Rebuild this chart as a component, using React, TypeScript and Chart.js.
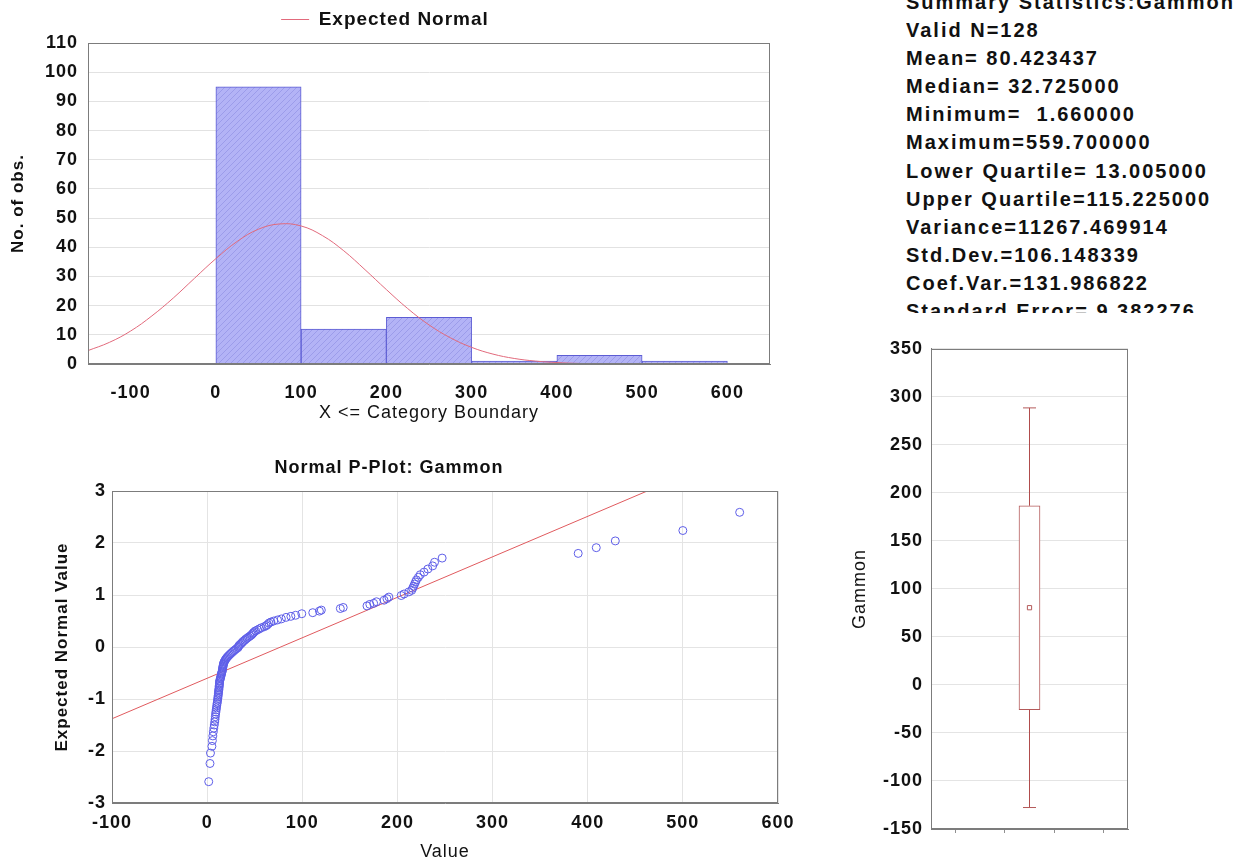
import React, { useEffect, useRef } from 'react';
import { Chart, registerables } from 'chart.js';

Chart.register(...registerables);

const FONT = 'Arial, "Liberation Sans", sans-serif';
Chart.defaults.font.family = FONT;
Chart.defaults.color = '#111111';

// ---------- Histogram ----------
const binStarts = [0, 100, 200, 300, 400, 500];
const binWidth = 100;
const binCounts = [95, 12, 16, 1, 3, 1];
const histXTicks = [-100, 0, 100, 200, 300, 400, 500, 600];
const normalCurveX = [-150, -125, -100, -75, -50, -25, 0, 25, 50, 75, 100, 125, 150, 175, 200, 225, 250, 275, 300, 325, 350, 375, 400, 425, 450, 475, 500, 525, 550, 575, 600, 625, 650];
const normalCurveY = [4.6, 7.4, 11.3, 16.5, 22.6, 29.4, 36.1, 42.0, 46.2, 48.0, 47.3, 44.0, 38.8, 32.3, 25.5, 19.0, 13.4, 9.0, 5.7, 3.4, 1.9, 1.0, 0.5, 0.2, 0.1, 0.05, 0, 0, 0, 0, 0, 0, 0];

// ---------- Normal P-Plot ----------
const pplotValues = [
  1.66, 3, 3.5, 5, 5.5, 6, 6.5, 7, 7.5, 8,
  8.3, 8.6, 8.9, 9.2, 9.5, 9.8, 10.1, 10.4, 10.7, 11.0,
  11.2, 11.4, 11.6, 11.8, 12.0, 12.1, 12.3, 12.5, 12.6, 12.8, 12.9, 13.0, 13.01,
  13.4, 13.8, 14.1, 14.4, 14.7, 15.0, 15.3, 15.6, 15.9, 16.1, 16.3, 16.5,
  16.7, 16.9, 17.1, 17.4, 17.8, 18.4, 19, 19.7, 20.5, 21.4,
  22.4, 23.5, 24.6, 25.8, 27, 28.3, 29.6, 31, 32.5,
  32.95, 33.6, 34.8, 36, 37, 38, 39.5, 40.5, 42, 43.5, 45,
  46.5, 47.5, 48.5, 49.5, 51, 53, 55, 57, 60, 62,
  63.5, 65, 67, 70, 74, 78, 83, 88, 93, 99.5,
  111, 118, 120, 140, 143, 168, 171, 175, 178, 186, 189, 191,
  204, 207, 212, 215, 216, 217, 218, 219, 220, 222, 224, 228, 232, 237, 239, 247,
  390, 409, 429, 500, 559.7,
];
const pplotExpected = [
  -2.59, -2.24, -2.04, -1.91, -1.80, -1.71, -1.63, -1.56, -1.50, -1.44,
  -1.39, -1.34, -1.29, -1.25, -1.21, -1.17, -1.13, -1.09, -1.06, -1.02,
  -0.99, -0.96, -0.93, -0.90, -0.87, -0.84, -0.82, -0.79, -0.76, -0.74,
  -0.71, -0.69, -0.66, -0.64, -0.61, -0.59, -0.57, -0.54, -0.52, -0.50,
  -0.48, -0.46, -0.43, -0.41, -0.39, -0.37, -0.35, -0.33, -0.31, -0.29,
  -0.27, -0.25, -0.23, -0.21, -0.19, -0.17, -0.15, -0.13, -0.11, -0.09,
  -0.07, -0.05, -0.03, -0.01,
  0.01, 0.03, 0.05, 0.07, 0.09, 0.11, 0.13, 0.15, 0.17, 0.19,
  0.21, 0.23, 0.25, 0.27, 0.29, 0.31, 0.33, 0.35, 0.37, 0.39,
  0.41, 0.43, 0.46, 0.48, 0.50, 0.52, 0.54, 0.57, 0.59, 0.61,
  0.64, 0.66, 0.69, 0.71, 0.74, 0.76, 0.79, 0.82, 0.84, 0.87,
  0.90, 0.93, 0.96, 0.99, 1.02, 1.06, 1.09, 1.13, 1.17, 1.21,
  1.25, 1.29, 1.34, 1.39, 1.44, 1.50, 1.56, 1.63, 1.71, 1.80,
  1.91, 2.04, 2.24, 2.59,
];
const fitLineX = [-100, 600];
const fitLineY = [-1.38, 4.07];

// ---------- Box plot ----------
const boxXTicks = [1, 2, 3];
const boxCenter = 2;
const boxMean = 80.423437;
const boxSdLow = -25.72;
const boxSdHigh = 186.57;
const whiskerLow = -127.63;
const whiskerHigh = 288.47;

// ---------- Summary text ----------
const statsLines = [
  'Summary Statistics:Gammon',
  'Valid N=128',
  'Mean= 80.423437',
  'Median= 32.725000',
  'Minimum=  1.660000',
  'Maximum=559.700000',
  'Lower Quartile= 13.005000',
  'Upper Quartile=115.225000',
  'Variance=11267.469914',
  'Std.Dev.=106.148339',
  'Coef.Var.=131.986822',
  'Standard Error= 9.382276',
];

const tickFont = { family: FONT, size: 18, weight: 'bold' as const };
const AXIS = '#7c7c7c';

const spacingPlugin = {
  id: 'spacing',
  beforeUpdate(chart: any) { chart.ctx.letterSpacing = '1px'; },
  beforeDraw(chart: any) { chart.ctx.letterSpacing = '1px'; },
};

const framePlugin = {
  id: 'frame',
  afterDatasetsDraw(chart: any) {
    const { ctx, chartArea: a } = chart;
    ctx.save();
    ctx.strokeStyle = AXIS;
    ctx.lineWidth = 1;
    const l = Math.round(a.left) + 0.5;
    const t = Math.round(a.top) + 0.5;
    const r = Math.round(a.right) - 0.5;
    const b = Math.round(a.bottom) - 0.5;
    ctx.strokeRect(l, t, r - l, b - t);
    ctx.restore();
  },
};

function makeHatch(): any {
  const c = document.createElement('canvas');
  c.width = 6;
  c.height = 6;
  const g = c.getContext('2d');
  if (!g) return '#b2b2f6';
  g.fillStyle = '#b3b3f6';
  g.fillRect(0, 0, 6, 6);
  g.fillStyle = '#9c9cea';
  for (let i = 0; i < 6; i++) g.fillRect(i, 5 - i, 1, 1);
  return g.createPattern(c, 'repeat') || '#b2b2f6';
}

function histConfig(): any {
  return {
    type: 'bar',
    data: {
      datasets: [
        {
          type: 'line',
          label: 'Expected Normal',
          data: normalCurveX.map((x, i) => ({ x, y: normalCurveY[i] })),
          borderColor: '#e26a7c',
          borderWidth: 1,
          pointRadius: 0,
          tension: 0.4,
          order: 0,
        },
        {
          type: 'bar',
          label: 'Gammon',
          data: binStarts.map((s, i) => ({ x: s + binWidth / 2, y: binCounts[i] })),
          backgroundColor: makeHatch(),
          borderColor: '#5c5cd4',
          borderWidth: 1,
          barPercentage: 1,
          categoryPercentage: 1,
          order: 1,
        },
      ],
    },
    options: {
      responsive: false,
      animation: false,
      layout: { padding: { top: 6, right: 10, left: 0, bottom: 0 } },
      plugins: {
        legend: {
          position: 'top',
          labels: {
            filter: (item: any) => item.text === 'Expected Normal',
            usePointStyle: true,
            pointStyle: 'line',
            pointStyleWidth: 28,
            font: { family: FONT, size: 19, weight: 'bold' },
            color: '#111',
            padding: 4,
          },
        },
        tooltip: { enabled: false },
      },
      scales: {
        x: {
          type: 'linear',
          min: -150,
          max: 650,
          offset: false,
          afterBuildTicks: (s: any) => { s.ticks = histXTicks.map((v) => ({ value: v })); },
          afterFit: (s: any) => { s.height = 66; },
          ticks: { font: tickFont, color: '#111', padding: 10, maxRotation: 0 },
          grid: { display: false },
          border: { color: AXIS },
          title: { display: true, text: 'X <= Category Boundary', font: { family: FONT, size: 18 }, color: '#111', padding: { top: 0, bottom: 6 } },
        },
        xTop: {
          type: 'linear',
          position: 'top',
          min: -150,
          max: 650,
          ticks: { display: false },
          grid: { display: false },
          border: { display: false },
          afterFit: (s: any) => { s.height = 4; },
        },
        y: {
          min: 0,
          max: 110,
          ticks: { stepSize: 10, font: tickFont, color: '#111', padding: 10 },
          afterFit: (s: any) => { s.width = 88; },
          grid: { color: '#e2e2e2', drawTicks: false },
          border: { color: AXIS },
          title: { display: true, text: 'No. of obs.', font: { family: FONT, size: 17, weight: 'bold' }, color: '#111', padding: { top: 8, bottom: 0 } },
        },
      },
    },
    plugins: [spacingPlugin, framePlugin],
  };
}

function pplotConfig(): any {
  return {
    type: 'scatter',
    data: {
      datasets: [
        {
          label: 'Gammon',
          data: pplotValues.map((v, i) => ({ x: v, y: pplotExpected[i] })),
          pointStyle: 'circle',
          pointRadius: 4,
          borderColor: '#5e5ee8',
          backgroundColor: 'rgba(0,0,0,0)',
          borderWidth: 1,
          order: 0,
        },
        {
          type: 'line',
          label: 'Fit',
          data: fitLineX.map((x, i) => ({ x, y: fitLineY[i] })),
          borderColor: '#e05a5e',
          borderWidth: 1,
          pointRadius: 0,
          order: 1,
        },
      ],
    },
    options: {
      responsive: false,
      animation: false,
      layout: { padding: { top: 0, right: 62, left: 0, bottom: 0 } },
      plugins: {
        legend: { display: false },
        tooltip: { enabled: false },
        title: {
          display: true,
          text: 'Normal P-Plot: Gammon',
          font: { family: FONT, size: 18, weight: 'bold' },
          color: '#111',
          padding: { top: 27, bottom: 12.4 },
        },
      },
      scales: {
        x: {
          type: 'linear',
          min: -100,
          max: 600,
          ticks: { stepSize: 100, font: tickFont, color: '#111', padding: 9, maxRotation: 0 },
          grid: { color: '#e4e4e4', drawTicks: false },
          border: { color: AXIS },
          afterFit: (s: any) => { s.height = 60; },
          title: { display: true, text: 'Value', font: { family: FONT, size: 18 }, color: '#111', padding: { top: 0, bottom: 0 } },
        },
        y: {
          min: -3,
          max: 3,
          ticks: { stepSize: 1, font: tickFont, color: '#111', padding: 6 },
          grid: { color: '#e4e4e4', drawTicks: false },
          border: { color: AXIS },
          afterFit: (s: any) => { s.width = 112; },
          title: { display: true, text: 'Expected Normal Value', font: { family: FONT, size: 17, weight: 'bold' }, color: '#111', padding: { top: 52, bottom: 0 } },
        },
      },
    },
    plugins: [spacingPlugin, framePlugin],
  };
}

function boxConfig(): any {
  const boxColor = '#b45a5a';
  const whiskerColor = '#b04c4c';
  return {
    type: 'bar',
    data: {
      datasets: [
        {
          type: 'bar',
          label: 'SD box',
          data: [{ x: boxCenter, y: [boxSdLow, boxSdHigh] }],
          backgroundColor: '#ffffff',
          borderColor: boxColor,
          borderWidth: 1,
          borderSkipped: false,
          barThickness: 21,
          order: 2,
        },
        {
          type: 'line',
          label: 'upper whisker',
          data: [{ x: boxCenter, y: boxSdHigh }, { x: boxCenter, y: whiskerHigh }],
          borderColor: whiskerColor,
          borderWidth: 1,
          pointRadius: 0,
          order: 1,
        },
        {
          type: 'line',
          label: 'lower whisker',
          data: [{ x: boxCenter, y: whiskerLow }, { x: boxCenter, y: boxSdLow }],
          borderColor: whiskerColor,
          borderWidth: 1,
          pointRadius: 0,
          order: 1,
        },
        {
          type: 'scatter',
          label: 'caps',
          data: [{ x: boxCenter, y: whiskerHigh }, { x: boxCenter, y: whiskerLow }],
          pointStyle: 'line',
          pointRadius: 6.5,
          borderColor: boxColor,
          borderWidth: 1,
          order: 0,
        },
        {
          type: 'scatter',
          label: 'mean',
          data: [{ x: boxCenter, y: boxMean }],
          pointStyle: 'rect',
          pointRadius: 3,
          borderColor: boxColor,
          backgroundColor: 'rgba(0,0,0,0)',
          borderWidth: 1,
          order: 0,
        },
      ],
    },
    options: {
      responsive: false,
      animation: false,
      layout: { padding: { top: 15, right: 122, left: 0, bottom: 0 } },
      plugins: { legend: { display: false }, tooltip: { enabled: false } },
      scales: {
        x: {
          type: 'linear',
          min: 0,
          max: 4,
          offset: false,
          afterBuildTicks: (s: any) => { s.ticks = boxXTicks.map((v) => ({ value: v })); },
          afterFit: (s: any) => { s.height = 34; },
          ticks: { display: false },
          grid: { drawOnChartArea: false, drawTicks: true, tickLength: 4, color: '#909090' },
          border: { color: AXIS },
        },
        y: {
          min: -150,
          max: 350,
          ticks: { stepSize: 50, font: tickFont, color: '#111', padding: 8 },
          grid: { color: '#e4e4e4', drawTicks: false },
          border: { color: AXIS },
          afterFit: (s: any) => { s.width = 91; },
          title: { display: true, text: 'Gammon', font: { family: FONT, size: 18 }, color: '#111', padding: { top: 9.2, bottom: 0 } },
        },
      },
    },
    plugins: [spacingPlugin, framePlugin],
  };
}

function ChartCanvas(props: { build: () => any; left: number; top: number; width: number; height: number }) {
  const ref = useRef<HTMLCanvasElement>(null);
  useEffect(() => {
    if (!ref.current) return;
    const chart = new Chart(ref.current, props.build());
    return () => chart.destroy();
  }, []);
  return (
    <canvas
      ref={ref}
      width={props.width}
      height={props.height}
      style={{ position: 'absolute', left: props.left, top: props.top, width: props.width, height: props.height, display: 'block' }}
    />
  );
}

export default function App() {
  return (
    <div style={{ position: 'absolute', left: 0, top: 0, width: 1250, height: 863, background: '#ffffff', overflow: 'hidden' }}>
      <ChartCanvas build={histConfig} left={0} top={0} width={780} height={430} />
      <ChartCanvas build={pplotConfig} left={0} top={430} width={840} height={433} />
      <ChartCanvas build={boxConfig} left={840} top={330} width={410} height={533} />
      <div style={{ position: 'absolute', left: 906, top: 0, width: 344, height: 313, overflow: 'hidden' }}>
        <div style={{ position: 'absolute', left: 0, top: -12, fontFamily: FONT, fontWeight: 'bold', fontSize: 20, letterSpacing: '2px', lineHeight: '28.1px', color: '#111', whiteSpace: 'pre' }}>
          {statsLines.map((s, i) => (
            <div key={i}>{s}</div>
          ))}
        </div>
      </div>
    </div>
  );
}
